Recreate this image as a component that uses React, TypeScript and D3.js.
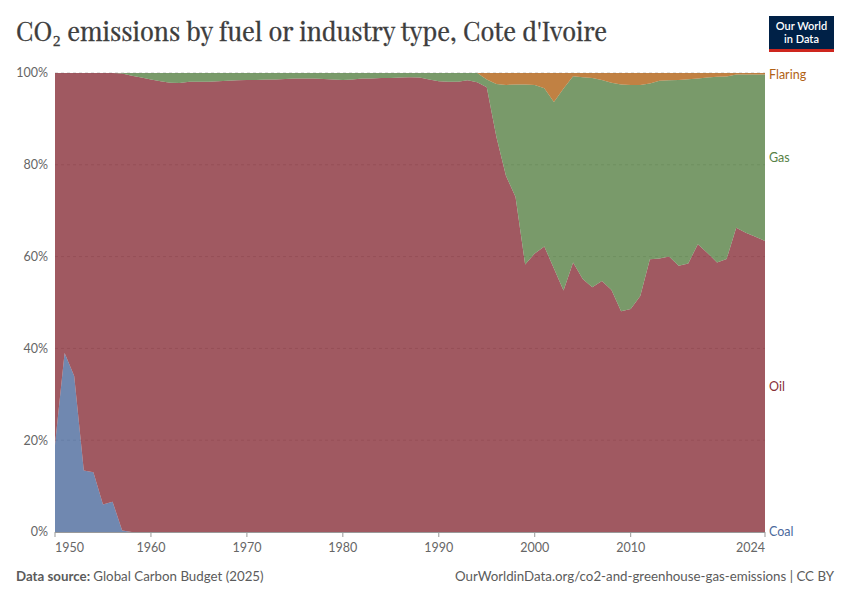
import React, { useEffect, useRef } from "react";
import * as d3 from "d3";

const years: number[] = d3.range(1950, 2025);

// shares in percent
const coal: number[] = [
  19, 39, 34, 13.4, 13, 6, 6.6, 0.3, 0, 0,
  0, 0, 0, 0, 0, 0, 0, 0, 0, 0,
  0, 0, 0, 0, 0, 0, 0, 0, 0, 0,
  0, 0, 0, 0, 0, 0, 0, 0, 0, 0,
  0, 0, 0, 0, 0, 0, 0, 0, 0, 0,
  0, 0, 0, 0, 0, 0, 0, 0, 0, 0,
  0, 0, 0, 0, 0, 0, 0, 0, 0, 0,
  0, 0, 0, 0, 0,
];
const gas: number[] = [
  0, 0, 0, 0, 0, 0, 0, 0.1, 0.6, 1.0,
  1.4, 1.8, 2.1, 2.2, 1.9, 1.9, 1.9, 1.8, 1.7, 1.6,
  1.5, 1.5, 1.4, 1.4, 1.3, 1.2, 1.2, 1.2, 1.3, 1.4,
  1.5, 1.4, 1.2, 1.2, 1.1, 1.1, 1.0, 0.9, 1.0, 1.4,
  1.8, 1.9, 1.9, 1.6, 2.0, 1.7, 11.5, 19.8, 24.5, 39.2,
  36.7, 34.5, 36.3, 44.0, 40.6, 44.0, 45.6, 43.8, 45.2, 49.4,
  48.8, 46.0, 38.3, 38.7, 38.4, 40.5, 40.15, 36.1, 38.2, 40.5,
  39.75, 33.4, 34.5, 35.4, 36.3,
];
const flaring: number[] = [
  0, 0, 0, 0, 0, 0, 0, 0, 0, 0,
  0, 0, 0, 0, 0, 0, 0, 0, 0, 0,
  0, 0, 0, 0, 0, 0, 0, 0, 0, 0,
  0, 0, 0, 0, 0, 0, 0, 0, 0, 0,
  0, 0, 0, 0, 0, 1.4, 2.4, 2.6, 2.5, 2.5,
  2.6, 3.3, 6.3, 3.4, 0.7, 0.9, 1.1, 1.5, 2.1, 2.5,
  2.6, 2.6, 2.3, 1.7, 1.6, 1.5, 1.35, 1.2, 1.0, 0.8,
  0.75, 0.3, 0.3, 0.3, 0.3,
];
const oil: number[] = [
  81, 61, 66, 86.6, 87, 94, 93.4, 99.6, 99.4, 99.0,
  98.6, 98.2, 97.9, 97.8, 98.1, 98.1, 98.1, 98.2, 98.3, 98.4,
  98.5, 98.5, 98.6, 98.6, 98.7, 98.8, 98.8, 98.8, 98.7, 98.6,
  98.5, 98.6, 98.8, 98.8, 98.9, 98.9, 99.0, 99.1, 99.0, 98.6,
  98.2, 98.1, 98.1, 98.4, 98.0, 96.9, 86.1, 77.6, 73.0, 58.3,
  60.7, 62.2, 57.4, 52.6, 58.7, 55.1, 53.3, 54.7, 52.7, 48.1,
  48.6, 51.4, 59.4, 59.6, 60.0, 58.0, 58.5, 62.7, 60.8, 58.7,
  59.5, 66.3, 65.2, 64.3, 63.4,
];

const seriesNames: string[] = ["Coal", "Oil", "Gas", "Flaring"];
const seriesColors: string[] = ["#4C6A9C", "#883039", "#578145", "#B16214"];
const yTicks: number[] = [0, 0.2, 0.4, 0.6, 0.8, 1];
const xTicks: number[] = [1950, 1960, 1970, 1980, 1990, 2000, 2010, 2024];

const W = 850;
const H = 600;
const M = { left: 55, right: 765, top: 73, bottom: 532 };

export default function App() {
  const ref = useRef<SVGSVGElement>(null);

  useEffect(() => {
    const svg = d3.select(ref.current);
    svg.selectAll("*").remove();

    const rows = years.map((y, i) => ({
      year: y,
      Coal: coal[i],
      Oil: oil[i],
      Gas: gas[i],
      Flaring: flaring[i],
    }));

    const stack = d3
      .stack<any>()
      .keys(seriesNames)
      .offset(d3.stackOffsetExpand);
    const layers = stack(rows);

    const x = d3.scaleLinear().domain([1950, 2024]).range([M.left, M.right]);
    const y = d3.scaleLinear().domain([0, 1]).range([M.bottom, M.top]);

    const font = "Lato, 'Noto Sans', sans-serif";

    // title
    svg
      .append("text")
      .attr("x", 16)
      .attr("y", 41)
      .attr("font-family", "'Playfair Display', 'Liberation Serif', 'DejaVu Serif', serif")
      .attr("font-size", 26)
      .attr("fill", "#3d3d3d")
      .attr("stroke", "#3d3d3d")
      .attr("stroke-width", 0.35)
      .attr("textLength", 591)
      .attr("lengthAdjust", "spacingAndGlyphs")
      .text("CO₂ emissions by fuel or industry type, Cote d'Ivoire");

    // logo
    const logo = svg.append("g");
    logo.append("rect").attr("x", 769).attr("y", 16).attr("width", 65).attr("height", 36).attr("fill", "#002147");
    logo.append("rect").attr("x", 769).attr("y", 49).attr("width", 65).attr("height", 3).attr("fill", "#ce261e");
    logo
      .append("text")
      .attr("x", 801.5)
      .attr("y", 30)
      .attr("text-anchor", "middle")
      .attr("font-family", font)
      .attr("font-size", 11)
      .attr("font-weight", 600)
      .attr("fill", "#fff")
      .text("Our World");
    logo
      .append("text")
      .attr("x", 801.5)
      .attr("y", 43)
      .attr("text-anchor", "middle")
      .attr("font-family", font)
      .attr("font-size", 11)
      .attr("font-weight", 600)
      .attr("fill", "#fff")
      .text("in Data");

    // gridlines
    svg
      .append("g")
      .selectAll("line")
      .data(yTicks.filter((t) => t > 0))
      .join("line")
      .attr("x1", M.left)
      .attr("x2", M.right)
      .attr("y1", (d) => y(d))
      .attr("y2", (d) => y(d))
      .attr("stroke", "#c8c8c8")
      .attr("stroke-dasharray", "3,3");

    // y labels
    svg
      .append("g")
      .selectAll("text")
      .data(yTicks)
      .join("text")
      .attr("x", 48)
      .attr("y", (d) => y(d))
      .attr("dy", "0.35em")
      .attr("text-anchor", "end")
      .attr("font-family", font)
      .attr("font-size", 12.5)
      .attr("fill", "#666")
      .text((d) => `${Math.round(d * 100)}%`);

    // areas
    const area = d3
      .area<any>()
      .x((d) => x(d.data.year))
      .y0((d) => y(d[0]))
      .y1((d) => y(d[1]));

    svg
      .append("g")
      .selectAll("path")
      .data(layers)
      .join("path")
      .attr("d", (d) => area(d as any) as string)
      .attr("fill", (d, i) => seriesColors[i])
      .attr("fill-opacity", 0.8);

    // x axis
    svg
      .append("line")
      .attr("x1", M.left)
      .attr("x2", M.right)
      .attr("y1", M.bottom + 0.5)
      .attr("y2", M.bottom + 0.5)
      .attr("stroke", "#999");
    const xg = svg.append("g");
    xg.selectAll("line")
      .data(xTicks)
      .join("line")
      .attr("x1", (d) => x(d))
      .attr("x2", (d) => x(d))
      .attr("y1", M.bottom)
      .attr("y2", M.bottom + 5)
      .attr("stroke", "#999");
    xg.selectAll("text")
      .data(xTicks)
      .join("text")
      .attr("x", (d) => x(d))
      .attr("y", 552)
      .attr("text-anchor", (d, i) => (i === 0 ? "start" : i === xTicks.length - 1 ? "end" : "middle"))
      .attr("font-family", font)
      .attr("font-size", 12.5)
      .attr("fill", "#666")
      .text((d) => String(d));

    // right labels
    const last = layers.map((l) => l[l.length - 1]);
    svg
      .append("g")
      .selectAll("text")
      .data(last)
      .join("text")
      .attr("x", 769)
      .attr("y", (d) => {
        const mid = y((d[0] + d[1]) / 2);
        return Math.min(Math.max(mid, 75), M.bottom);
      })
      .attr("dy", "0.35em")
      .attr("font-family", font)
      .attr("font-size", 12.5)
      .attr("fill", (d, i) => seriesColors[i])
      .text((d, i) => seriesNames[i]);

    // footer
    const foot = svg
      .append("text")
      .attr("x", 16)
      .attr("y", 581)
      .attr("font-family", font)
      .attr("font-size", 13.3)
      .attr("fill", "#5b5b5b");
    foot.append("tspan").attr("font-weight", 700).text("Data source: ");
    foot.append("tspan").text("Global Carbon Budget (2025)");

    svg
      .append("text")
      .attr("x", 834)
      .attr("y", 581)
      .attr("text-anchor", "end")
      .attr("font-family", font)
      .attr("font-size", 13.3)
      .attr("fill", "#5b5b5b")
      .text("OurWorldinData.org/co2-and-greenhouse-gas-emissions | CC BY");
  }, []);

  return (
    <svg
      ref={ref}
      width={W}
      height={H}
      style={{ position: "absolute", left: 0, top: 0, background: "#fff" }}
    />
  );
}
